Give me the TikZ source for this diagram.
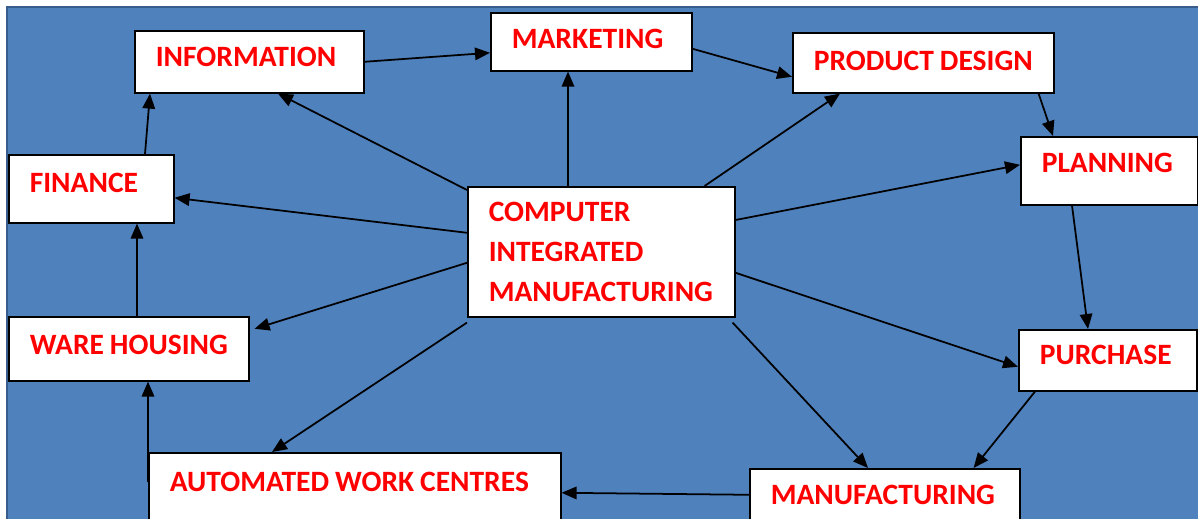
\documentclass[tikz,border=0pt]{standalone}
\usepackage{fontspec}
\setmainfont{Carlito}
\usepackage{xcolor}
\definecolor{slideblue}{RGB}{79,129,189}
\definecolor{slideedge}{RGB}{56,93,138}
\usepackage{tikz}
\usetikzlibrary{arrows.meta, calc}

% narrow word gaps, no hyphens in the box labels
\newcommand\tightwords{\setlength{\spaceskip}{0.2em}\hyphenpenalty=10000\relax}

\begin{document}
\begin{tikzpicture}[
    unit/.style={draw=black, fill=white, line width=0.9pt, anchor=north west,
      align=left, inner xsep=0.42cm, inner ysep=0pt, text=red,
      font=\bfseries\fontsize{16.8}{22.7}\selectfont,
      execute at begin node=\tightwords,
      text height=10.8pt, text depth=#1},
    unit/.default=0pt,
    hub/.style={unit, text height=, text depth=},
    link/.style={-{Triangle[length=0.3cm,width=0.25cm]}, line width=1pt}
  ]
  \useasboundingbox (0,0) rectangle (23.96,10.36);
  \clip (0,0) rectangle (23.96,10.36);

  % Slide background
  \fill[white] (0,0) rectangle (23.96,10.36);
  \filldraw[fill=slideblue, draw=slideedge, line width=0.6pt] (0.14,-0.2) rectangle (24.2,10.22);

  % Departments round the ring
  \node[unit=0.2cm, text width=3.74cm, minimum height=1.24cm] (info) at (2.68,9.76) {INFORMATION};
  \node[unit=0.12cm, text width=3.18cm, minimum height=1.16cm] (mkt) at (9.80,10.12) {MARKETING};
  \node[unit=0.06cm, text width=4.38cm, minimum height=1.20cm] (design) at (15.84,9.72) {PRODUCT~DESIGN};
  \node[unit=0.3cm, text width=2.70cm, minimum height=1.36cm] (plan) at (20.40,7.64) {PLANNING};
  \node[unit=0.22cm, text width=2.72cm, minimum height=1.22cm] (purch) at (20.36,3.78) {PURCHASE};
  \node[unit=0.2cm, text width=4.56cm, minimum height=1.24cm] (manuf) at (14.98,1.00) {MANUFACTURING};
  \node[unit=0.2cm, text width=7.40cm, minimum height=1.36cm] (auto) at (2.96,1.32) {AUTOMATED~WORK~CENTRES};
  \node[unit=0.16cm, text width=3.96cm, minimum height=1.28cm] (ware) at (0.16,4.04) {WARE~HOUSING};
  \node[unit=0.22cm, text width=2.46cm, minimum height=1.36cm] (fin) at (0.16,7.28) {FINANCE};

  % Centre
  \node[hub, text width=4.50cm, minimum height=2.60cm] (cim) at (9.34,6.64)
    {COMPUTER\\INTEGRATED\\MANUFACTURING};

  % Outer cycle
  \draw[link] (info.east) -- ([yshift=-0.22cm]mkt.west);
  \draw[link] ([yshift=-0.14cm]mkt.east) -- ([yshift=-0.28cm]design.west);
  \draw[link] ([xshift=-0.32cm]design.south east) -- ([xshift=0.66cm]plan.north west);
  \draw[link] ([xshift=1.04cm]plan.south west) -- ([xshift=1.40cm]purch.north west);
  \draw[link] ([xshift=0.34cm]purch.south west) -- ([xshift=-0.94cm]manuf.north east);
  \draw[link] ([yshift=0.10cm]manuf.west) -- ([yshift=-0.12cm]auto.east);
  \draw[link] ([yshift=0.10cm]auto.west) -- (auto.west |- ware.south);
  \draw[link] ([xshift=2.58cm]ware.north west) coordinate (wtop) -- (wtop |- fin.south);
  \draw[link] ([xshift=2.74cm]fin.north west) -- ([xshift=0.32cm]info.south west);

  % Spokes from the centre
  \draw[link] ([xshift=2.02cm]cim.north west) coordinate (ctop) -- (ctop |- mkt.south);
  \draw[link] ([xshift=-0.62cm]cim.north east) -- ([xshift=0.96cm]design.south west);
  \draw[link] ([yshift=-0.68cm]cim.north east) -- ([yshift=0.12cm]plan.west);
  \draw[link] ([yshift=-0.42cm]cim.east) -- ([yshift=-0.13cm]purch.west);
  \draw[link] ([xshift=-0.06cm,yshift=-0.1cm]cim.south east) -- ([xshift=2.38cm]manuf.north west);
  \draw[link] ([yshift=-0.1cm]cim.south west) -- ([xshift=2.48cm]auto.north west);
  \draw[link] ([yshift=-0.22cm]cim.west) -- ([xshift=0.1cm,yshift=0.40cm]ware.east);
  \draw[link] ([yshift=0.38cm]cim.west) -- ([yshift=-0.18cm]fin.east);
  \draw[link] ([yshift=-0.08cm]cim.north west) -- ([xshift=2.88cm]info.south west);

\end{tikzpicture}
\end{document}
